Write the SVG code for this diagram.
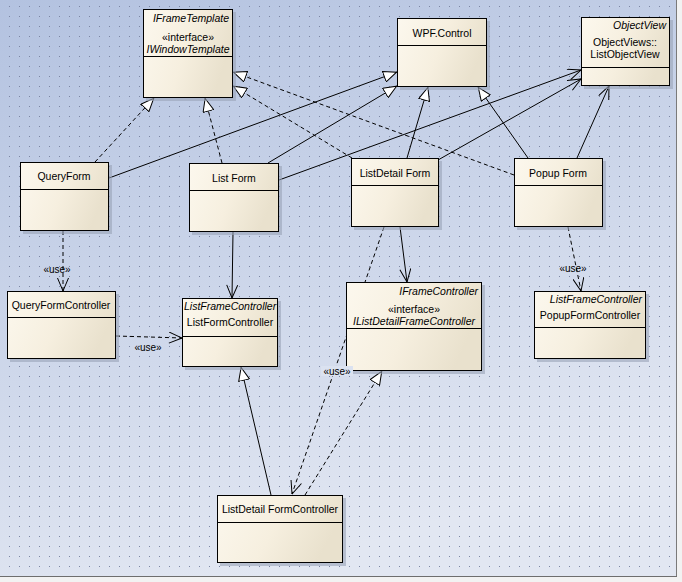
<svg xmlns="http://www.w3.org/2000/svg" width="682" height="582" viewBox="0 0 682 582">
<defs>
<linearGradient id="bg" x1="0" y1="0" x2="0.35" y2="1">
<stop offset="0" stop-color="#b3c2e0"/>
<stop offset="1" stop-color="#e2e7f2"/>
</linearGradient>
<pattern id="dots" width="10" height="10" patternUnits="userSpaceOnUse" x="0" y="0">
<rect x="9" y="6" width="1" height="1" fill="#7b86a4"/>
</pattern>
<linearGradient id="boxfill" x1="0" y1="0" x2="1" y2="0.3">
<stop offset="0" stop-color="#fcf8ee"/>
<stop offset="0.55" stop-color="#f6efdf"/>
<stop offset="1" stop-color="#e9e1cd"/>
</linearGradient>
<marker id="tri" viewBox="0 0 14 12" refX="14" refY="6" markerWidth="14" markerHeight="12" markerUnits="userSpaceOnUse" orient="auto">
<path d="M0.5,0.5 L13.5,6 L0.5,11.5 z" fill="#fff" stroke="#000" stroke-width="1"/>
</marker>
<marker id="open" viewBox="0 0 14 12" refX="13.5" refY="6" markerWidth="14" markerHeight="12" markerUnits="userSpaceOnUse" orient="auto">
<path d="M0.5,0.5 L13.5,6 L0.5,11.5" fill="none" stroke="#000" stroke-width="1"/>
</marker>
</defs>
<style>
.box{fill:url(#boxfill);stroke:#000;stroke-width:1}
.shadow{fill:#9aa3b8;opacity:0.6}
.div{stroke:#000;stroke-width:1}
text{font-family:"Liberation Sans",Arial,sans-serif;font-size:10.5px;fill:#000}
.it{font-style:italic}
.c{text-anchor:middle}
.r{text-anchor:end}
.lbl{font-size:10px}
.solid{fill:none;stroke:#000;stroke-width:1}
.dash{fill:none;stroke:#000;stroke-width:1;stroke-dasharray:4,3}
</style>
<rect x="0" y="0" width="682" height="582" fill="url(#bg)"/>
<rect x="0" y="0" width="677" height="577" fill="url(#dots)"/>
<rect x="677" y="0" width="5" height="582" fill="#f2f2f2"/>
<rect x="0" y="577" width="682" height="5" fill="#f2f2f2"/>
<line x1="676.5" y1="0" x2="676.5" y2="577" stroke="#7a7a7a"/>
<line x1="0" y1="576.5" x2="677" y2="576.5" stroke="#6e6e6e"/>

<g id="connectors">
<line class="dash" x1="95" y1="162" x2="154" y2="98" marker-end="url(#tri)"/>
<line class="dash" x1="222" y1="163" x2="205" y2="98" marker-end="url(#tri)"/>
<line class="dash" x1="352" y1="158" x2="233" y2="86" marker-end="url(#tri)"/>
<line class="dash" x1="514" y1="175" x2="233" y2="72" marker-end="url(#tri)"/>
<line class="solid" x1="109" y1="178" x2="397" y2="72" marker-end="url(#tri)"/>
<line class="solid" x1="268" y1="163" x2="397" y2="86" marker-end="url(#tri)"/>
<line class="solid" x1="407" y1="158" x2="428" y2="87" marker-end="url(#tri)"/>
<line class="solid" x1="528" y1="158" x2="478" y2="87" marker-end="url(#tri)"/>
<line class="solid" x1="279" y1="180" x2="581" y2="70" marker-end="url(#open)"/>
<line class="solid" x1="438" y1="160" x2="581" y2="79" marker-end="url(#open)"/>
<line class="solid" x1="577" y1="158" x2="609" y2="86" marker-end="url(#open)"/>
<line class="dash" x1="63" y1="231" x2="63" y2="291" marker-end="url(#open)"/>
<text class="lbl" x="57" y="273" text-anchor="middle">«use»</text>
<line class="dash" x1="116" y1="336" x2="182" y2="338" marker-end="url(#open)"/>
<text class="lbl" x="148" y="351" text-anchor="middle">«use»</text>
<line class="dash" x1="568" y1="227" x2="581" y2="291" marker-end="url(#open)"/>
<text class="lbl" x="573" y="272" text-anchor="middle">«use»</text>
<line class="dash" x1="384" y1="227" x2="292" y2="494" marker-end="url(#open)"/>
<line class="solid" x1="233" y1="232" x2="232" y2="298" marker-end="url(#open)"/>
<line class="solid" x1="400" y1="227" x2="407" y2="282" marker-end="url(#open)"/>
<line class="solid" x1="271" y1="495" x2="241" y2="367" marker-end="url(#tri)"/>
<line class="dash" x1="305" y1="495" x2="382" y2="371" marker-end="url(#tri)"/>
</g>

<g id="IFrameTemplate">
<rect class="shadow" x="146" y="12" width="90" height="89"/>
<rect class="box" x="143.5" y="9.5" width="89" height="88"/>
<line class="div" x1="143.5" y1="56.5" x2="232.5" y2="56.5"/>
<text class="it r" x="229" y="22">IFrameTemplate</text>
<text class="c" x="188" y="41">«interface»</text>
<text class="it c" x="188" y="53">IWindowTemplate</text>
</g>

<g id="WPFControl">
<rect class="shadow" x="400" y="21" width="90" height="69"/>
<rect class="box" x="397.5" y="18.5" width="89" height="68"/>
<line class="div" x1="397.5" y1="45.5" x2="486.5" y2="45.5"/>
<text class="c" x="442" y="37">WPF.Control</text>
</g>

<g id="ObjectView">
<rect class="shadow" x="584" y="20" width="89" height="69"/>
<rect class="box" x="581.5" y="17.5" width="88" height="68"/>
<line class="div" x1="581.5" y1="67.5" x2="669.5" y2="67.5"/>
<text class="it r" x="666" y="29">ObjectView</text>
<text class="c" x="625" y="46">ObjectViews::</text>
<text class="c" x="625" y="58">ListObjectView</text>
</g>

<g id="QueryForm">
<rect class="shadow" x="23" y="165" width="89" height="69"/>
<rect class="box" x="20.5" y="162.5" width="88" height="68"/>
<line class="div" x1="20.5" y1="189.5" x2="108.5" y2="189.5"/>
<text class="c" x="64" y="180">QueryForm</text>
</g>

<g id="ListForm">
<rect class="shadow" x="192" y="166" width="90" height="69"/>
<rect class="box" x="189.5" y="163.5" width="89" height="68"/>
<line class="div" x1="189.5" y1="190.5" x2="278.5" y2="190.5"/>
<text class="c" x="234" y="182">List Form</text>
</g>

<g id="ListDetailForm">
<rect class="shadow" x="354" y="161" width="88" height="69"/>
<rect class="box" x="351.5" y="158.5" width="87" height="68"/>
<line class="div" x1="351.5" y1="185.5" x2="438.5" y2="185.5"/>
<text class="c" x="395" y="177">ListDetail Form</text>
</g>

<g id="PopupForm">
<rect class="shadow" x="517" y="161" width="89" height="69"/>
<rect class="box" x="514.5" y="158.5" width="88" height="68"/>
<line class="div" x1="514.5" y1="185.5" x2="602.5" y2="185.5"/>
<text class="c" x="558" y="177">Popup Form</text>
</g>

<g id="QueryFormController">
<rect class="shadow" x="10" y="294" width="109" height="68"/>
<rect class="box" x="7.5" y="291.5" width="108" height="67"/>
<line class="div" x1="7.5" y1="317.5" x2="115.5" y2="317.5"/>
<text class="c" x="61" y="309">QueryFormController</text>
</g>

<g id="ListFormController">
<rect class="shadow" x="185" y="301" width="96" height="69"/>
<rect class="box" x="182.5" y="298.5" width="95" height="68"/>
<line class="div" x1="182.5" y1="336.5" x2="277.5" y2="336.5"/>
<text class="it" x="184" y="310">ListFrameController</text>
<text class="c" x="230" y="326">ListFormController</text>
</g>

<g id="IListDetailFrameController">
<rect class="shadow" x="349" y="285" width="136" height="89"/>
<rect class="box" x="346.5" y="282.5" width="135" height="88"/>
<line class="div" x1="346.5" y1="328.5" x2="481.5" y2="328.5"/>
<text class="it r" x="478" y="295">IFrameController</text>
<text class="c" x="414" y="313">«interface»</text>
<text class="it c" x="414" y="325">IListDetailFrameController</text>
</g>

<g id="PopupFormController">
<rect class="shadow" x="537" y="294" width="112" height="68"/>
<rect class="box" x="534.5" y="291.5" width="111" height="67"/>
<line class="div" x1="534.5" y1="327.5" x2="645.5" y2="327.5"/>
<text class="it r" x="642" y="303">ListFrameController</text>
<text class="c" x="590" y="319">PopupFormController</text>
</g>

<g id="ListDetailFormController">
<rect class="shadow" x="220" y="498" width="126" height="68"/>
<rect class="box" x="217.5" y="495.5" width="125" height="67"/>
<line class="div" x1="217.5" y1="522.5" x2="342.5" y2="522.5"/>
<text class="c" x="280" y="513">ListDetail FormController</text>
</g>

<g id="connector-labels">
<rect x="321" y="366" width="32" height="10" fill="#dbe2f0"/>
<text class="lbl" x="337" y="375" text-anchor="middle">«use»</text>
</g>
</svg>
